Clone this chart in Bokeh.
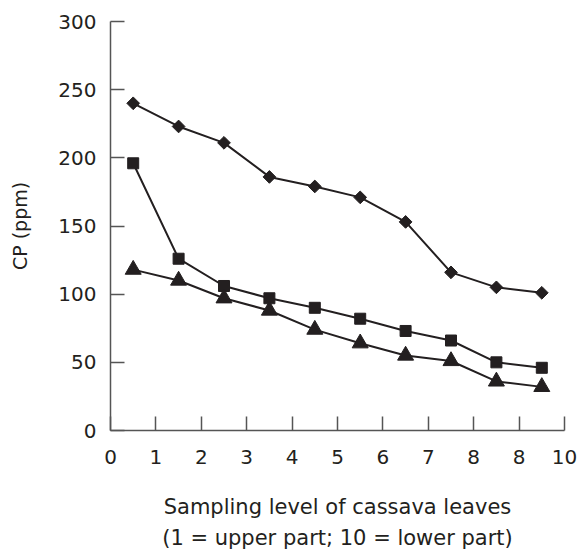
from bokeh.plotting import figure
from bokeh.models import Range1d, FixedTicker, Title
from bokeh.embed import file_html
from bokeh.resources import INLINE
import math

# Data
levels = [0.5, 1.5, 2.5, 3.5, 4.5, 5.5, 6.5, 7.5, 8.5, 9.5]
series_diamond = [240, 223, 211, 186, 179, 171, 153, 116, 105, 101]
series_square = [196, 126, 106, 97, 90, 82, 73, 66, 50, 46]
series_triangle = [118, 110, 97, 88, 74, 64, 55, 51, 36, 32]
x_ticks = [0, 1, 2, 3, 4, 5, 6, 7, 8, 9, 10]
x_tick_labels = ["0", "1", "2", "3", "4", "5", "6", "7", "8", "8", "10"]
y_ticks = [0, 50, 100, 150, 200, 250, 300]
x_title = "Sampling level of cassava leaves"
x_subtitle = "(1 = upper part; 10 = lower part)"
y_title = "CP (ppm)"

INK = "#231f20"
AXIS = "#555555"
FONT = "DejaVu Sans"

p = figure(width=579, height=558, output_backend="svg", toolbar_location=None,
           x_range=Range1d(0, 10), y_range=Range1d(0, 300),
           min_border_left=110, min_border_right=15, min_border_top=21,
           min_border_bottom=128)
p.outline_line_color = None
p.xgrid.visible = False
p.ygrid.visible = False

for ys in (series_diamond, series_square, series_triangle):
    p.line(levels, ys, line_color=INK, line_width=2)

p.scatter(levels, series_diamond, marker="square", size=9, angle=math.pi / 4,
          fill_color=INK, line_color=INK)
p.scatter(levels, series_square, marker="square", size=11,
          fill_color=INK, line_color=INK)
p.scatter(levels, series_triangle, marker="triangle", size=16,
          fill_color=INK, line_color=INK)

xa = p.xaxis[0]
xa.ticker = FixedTicker(ticks=x_ticks)
xa.major_label_overrides = {t: l for t, l in zip(x_ticks, x_tick_labels)}
xa.minor_tick_line_color = None
xa.major_tick_in = 14
xa.major_tick_out = 0
xa.major_label_standoff = 19
xa.axis_label = x_title
xa.axis_label_standoff = 28
xa.axis_label_text_font = FONT
xa.axis_label_text_font_size = "21px"
xa.axis_label_text_font_style = "normal"
xa.axis_label_text_color = INK
xa.major_label_text_font = FONT
xa.major_label_text_font_size = "20px"
xa.major_label_text_color = INK
xa.axis_line_color = AXIS
xa.axis_line_width = 1.5
xa.major_tick_line_color = AXIS
xa.major_tick_line_width = 1.5

ya = p.yaxis[0]
ya.ticker = FixedTicker(ticks=y_ticks)
ya.minor_tick_line_color = None
ya.major_tick_in = 14
ya.major_tick_out = 0
ya.major_label_standoff = 14
ya.axis_label = y_title
ya.axis_label_standoff = 24
ya.axis_label_text_font = FONT
ya.axis_label_text_font_size = "19px"
ya.axis_label_text_font_style = "normal"
ya.axis_label_text_color = INK
ya.major_label_text_font = FONT
ya.major_label_text_font_size = "20px"
ya.major_label_text_color = INK
ya.axis_line_color = AXIS
ya.axis_line_width = 1.5
ya.major_tick_line_color = AXIS
ya.major_tick_line_width = 1.5

sub = Title(text=x_subtitle, align="center",
            text_font=FONT, text_font_size="21px", text_font_style="normal",
            text_color=INK, standoff=5, offset=0)
p.add_layout(sub, "below")

open("out.html", "w").write(file_html(p, INLINE))
